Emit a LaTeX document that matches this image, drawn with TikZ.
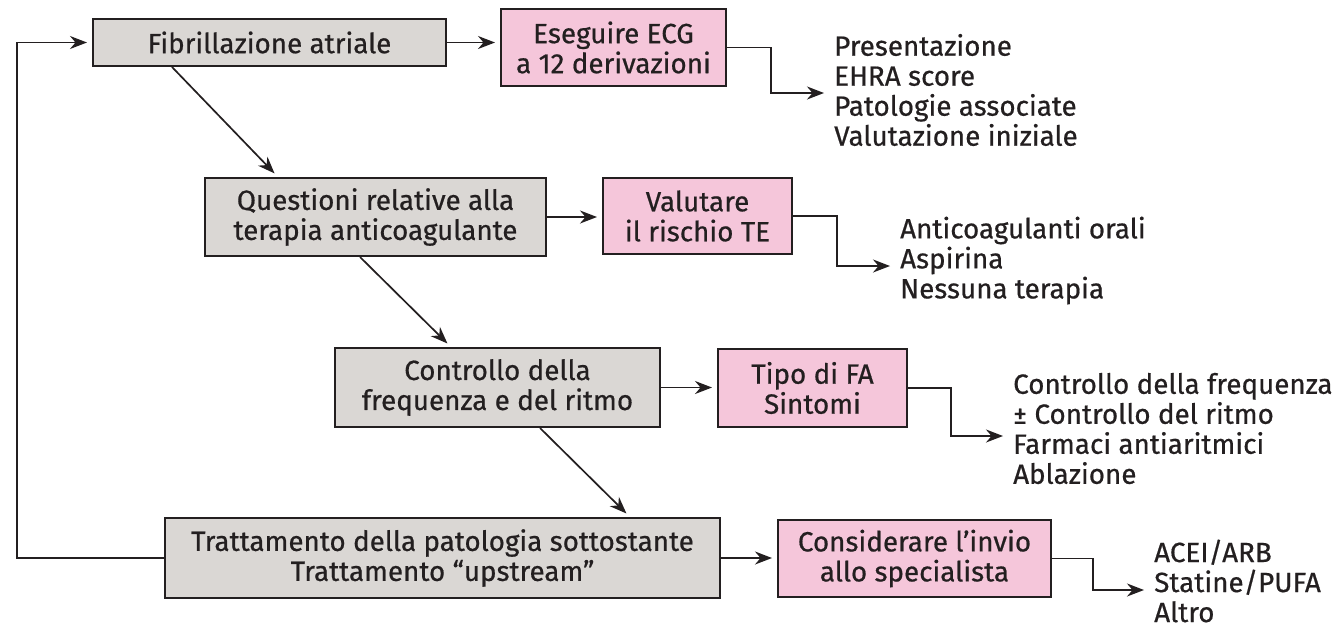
\documentclass[tikz,border=0pt]{standalone}
\usepackage{fontspec}
\setmainfont{Fira Sans}[FakeBold=0.6]
\usetikzlibrary{arrows.meta}
\definecolor{boxgray}{HTML}{DAD7D4}
\definecolor{boxpink}{HTML}{F5C6DA}
\definecolor{inkdark}{HTML}{231F20}
\tikzset{
	stepbox/.style={draw=inkdark, line width=2pt, fill=boxgray, align=center, inner sep=0pt, text=inkdark, font=\fontsize{27.8}{30}\selectfont},
	checkbox/.style={stepbox, fill=boxpink},
	optlist/.style={align=left, anchor=west, inner xsep=5pt, inner ysep=0pt, text=inkdark, font=\fontsize{27.8}{30}\selectfont},
	link/.style={draw=inkdark, line width=1.7pt, -{Stealth[length=17pt,width=13pt]}, shorten >=5pt}
}

\begin{document}
\begin{tikzpicture}[x=1pt, y=-1pt]
		%%%%% START %%%%%
		\useasboundingbox (0,0) rectangle (1337,624);
		
		\node[stepbox, minimum width=353pt, minimum height=47pt] (fib) at (269.5,42.5) {Fibrillazione atriale};
		\node[checkbox, minimum width=225pt, minimum height=77pt] (ecg) at (613.5,47.5) {Eseguire ECG\\a 12 derivazioni};
		\node[optlist] (ecgList) at (829,90) {Presentazione\\EHRA score\\Patologie associate\\Valutazione iniziale};
		
		\node[stepbox, minimum width=341pt, minimum height=78pt] (quest) at (375.5,217) {Questioni relative alla\\terapia anticoagulante};
		\node[checkbox, minimum width=189pt, minimum height=76pt] (rischio) at (697.5,216) {Valutare\\il rischio TE};
		\node[optlist] (rischioList) at (895,260.5) {Anticoagulanti orali\\Aspirina\\Nessuna terapia};
		
		\node[stepbox, minimum width=325pt, minimum height=79pt] (ctrl) at (497.5,387.5) {Controllo della\\frequenza e del ritmo};
		\node[checkbox, minimum width=189pt, minimum height=78pt] (tipo) at (812.5,388) {Tipo di FA\\Sintomi};
		\node[optlist] (tipoList) at (1008,428.5) {Controllo della frequenza\\± Controllo del ritmo\\Farmaci antiaritmici\\Ablazione};
		
		\node[stepbox, minimum width=555pt, minimum height=80pt] (tratt) at (442.5,558) {Trattamento della patologia sottostante\\Trattamento “upstream”};
		\node[checkbox, minimum width=273pt, minimum height=77pt] (consid) at (914.5,558.5) {Considerare l’invio\\allo specialista};
		\node[optlist] (considList) at (1149,581) {ACEI/ARB\\Statine/PUFA\\Altro};
		
		\coordinate (loopx) at (17,0);
		
		% main column
		\draw[link] ([xshift=-97.5pt]fib.south) -- ([xshift=-97.5pt]quest.north);
		\draw[link] ([xshift=-15.5pt]quest.south) -- ([xshift=-46.5pt]ctrl.north);
		\draw[link] ([xshift=42.5pt]ctrl.south) -- ([xshift=187.5pt]tratt.north);
		\draw[link] (tratt.west) -- (tratt.west -| loopx) -- (fib.west -| loopx) -- (fib.west);
		
		% to the pink boxes
		\draw[link] (fib.east) -- (fib.east -| ecg.west);
		\draw[link] (quest.east) -- (quest.east -| rischio.west);
		\draw[link] (ctrl.east) -- (ctrl.east -| tipo.west);
		\draw[link] (tratt.east) -- (tratt.east -| consid.west);
		
		% to the lists
		\draw[link] (ecg.east) -- ++(44,0) |- ([yshift=-3pt]ecgList.west);
		\draw[link] (rischio.east) -- ++(44,0) |- ([yshift=-5.5pt]rischioList.west);
		\draw[link] (tipo.east) -- ++(43,0) |- ([yshift=-7.5pt]tipoList.west);
		\draw[link] (consid.east) -- ++(41,0) |- ([yshift=-9pt]considList.west);
		
		%%%%% END %%%%%
\end{tikzpicture}
\end{document}
